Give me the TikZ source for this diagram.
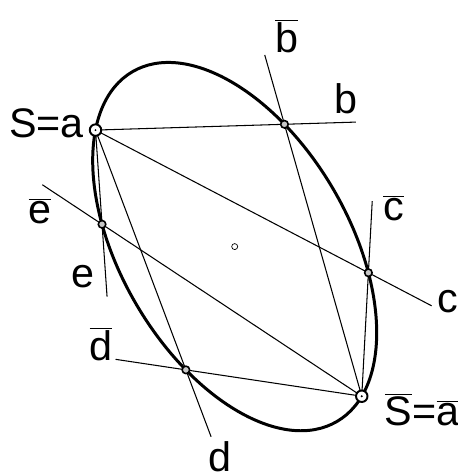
\documentclass[tikz,border=0pt]{standalone}
\usepackage{fontspec}
\setmainfont{Liberation Sans}
\usetikzlibrary{calc}
\newcommand\ov[1]{$\overline{\mbox{#1}}$}

\begin{document}
\begin{tikzpicture}[
  every node/.style={font=\fontsize{23.5}{28}\selectfont, inner sep=0pt},
  conic/.style={draw=black, line width=1.7pt},
  ray/.style={draw=black, line width=.6pt},
  pt/.style={circle, draw=black, fill=black!22, line width=.9pt, minimum size=1.5mm},
  pole/.style={circle, draw=black, fill=white, line width=1.1pt, minimum size=2.3mm},
  centre/.style={circle, draw=black, line width=.4pt, minimum size=1.2mm}
]
  \useasboundingbox (0,0) rectangle (9.16,9.52);
  \coordinate (C) at (4.694,4.588);
  \begin{scope}[shift={(C)}, rotate=-59.67]
    \coordinate (S)  at (212.5:4.052 and 2.282);
    \coordinate (Sb) at (17.4:4.052 and 2.282);
    \coordinate (b)  at (113.4:4.052 and 2.282);
    \coordinate (c)  at (63.6:4.052 and 2.282);
    \coordinate (e)  at (244.8:4.052 and 2.282);
    \coordinate (d)  at (293.8:4.052 and 2.282);
  \end{scope}

  % free ends of the lines
  \foreach \p/\k in {b/1.378, c/1.232, e/1.768, d/1.279}
    \coordinate (\p1) at ($(S)!\k!(\p)$);
  \foreach \p/\k in {b/1.255, c/1.58, e/1.23, d/1.40}
    \coordinate (\p2) at ($(Sb)!\k!(\p)$);

  \foreach \p in {b,c,d,e} {
    \draw[ray] (S) -- (\p1);
    \draw[ray] (Sb) -- (\p2);
  }
  \draw[conic, rotate around={-59.67:(C)}] (C) ellipse [x radius=4.052, y radius=2.282];

  \node[centre] (O) at (C) {};
  \foreach \p in {b,c,d,e}
    \node[pt] (m\p) at (\p) {};
  \node[pole] (mS) at (S) {};
  \node[pole] (mSb) at (Sb) {};
  \fill (mS.center) circle (.6pt);
  \fill (mSb.center) circle (.6pt);

  \node[anchor=base east] (lS) at (1.68,6.76) {S=a};
  \node[anchor=base west] (lSb) at (7.69,1.006) {\ov{S}=\ov{a}};
  \node[anchor=base] (lb2) at (5.734,8.46) {\ov{b}};
  \node[anchor=base] (lb1) at (6.928,7.24) {b};
  \node[anchor=base] (lc2) at (7.874,5.10) {\ov{c}};
  \node[anchor=base] (lc1) at (8.96,3.266) {c};
  \node[anchor=base] (le2) at (0.80,5.04) {\ov{e}};
  \node[anchor=base] (le1) at (1.66,3.76) {e};
  \node[anchor=base] (ld2) at (2.02,2.30) {\ov{d}};
  \node[anchor=base] (ld1) at (4.40,0.08) {d};
\end{tikzpicture}
\end{document}
